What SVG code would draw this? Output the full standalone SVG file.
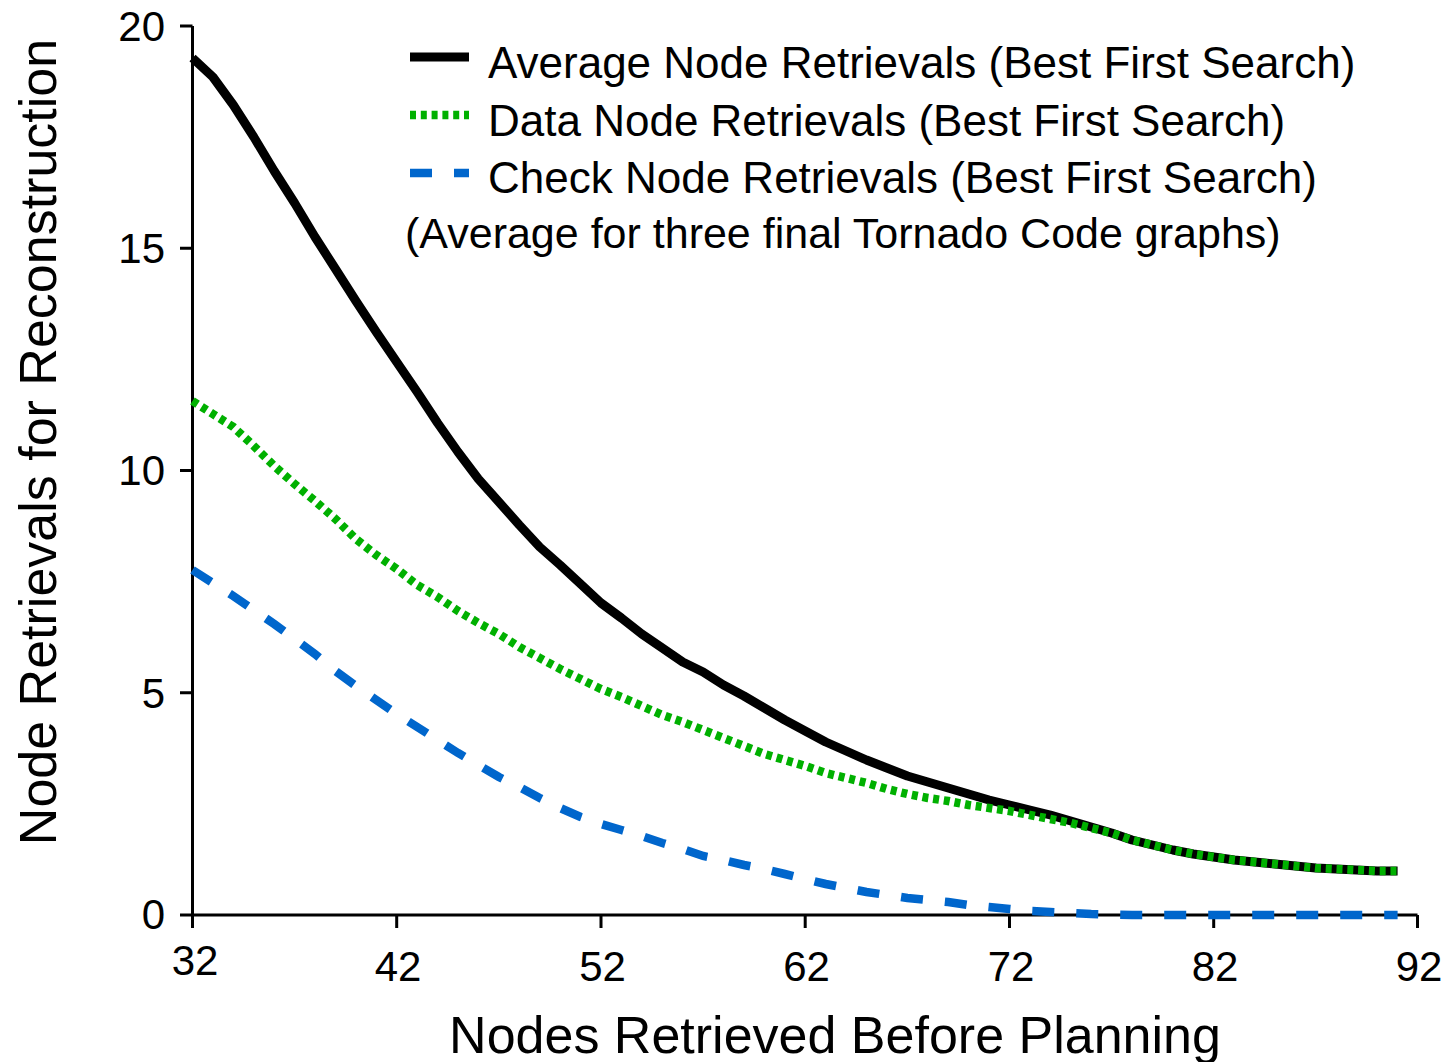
<svg xmlns="http://www.w3.org/2000/svg" width="1450" height="1062" viewBox="0 0 1450 1062">
  <style>
    text { font-family: "Liberation Sans", Arial, sans-serif; fill: #000; }
    .tick { font-size: 42px; }
    .ytick { text-anchor: end; }
    .xtick { text-anchor: middle; }
    .title { font-size: 52px; text-anchor: middle; }
    .legend { font-size: 44px; }
    .note { font-size: 43px; }
    .axis { stroke: #000; stroke-width: 3; fill: none; }
    .s-avg { stroke: #000; stroke-width: 9; fill: none; stroke-linejoin: round; }
    .s-data { stroke: #00b000; stroke-width: 8.5; fill: none; stroke-dasharray: 6 4.8; }
    .s-check { stroke: #0066cc; stroke-width: 8.5; fill: none; stroke-dasharray: 22 22; }
  </style>
  <rect width="1450" height="1062" fill="#fff"/>

  <!-- axes and tick marks -->
  <g id="axes">
    <path class="axis" d="M192.5,26 V915 H1417.5"/>
    <path class="axis" d="M180,26 H192.5 M180,248.2 H192.5 M180,470.5 H192.5 M180,692.7 H192.5 M180,915 H192.5"/>
    <path class="axis" d="M192.5,915 V928 M396.7,915 V928 M601,915 V928 M805.2,915 V928 M1009.5,915 V928 M1213.7,915 V928 M1417.5,915 V928"/>
  </g>

  <g id="y-ticks" class="tick ytick">
    <text x="165" y="41">20</text>
    <text x="165" y="263">15</text>
    <text x="165" y="485">10</text>
    <text x="165" y="708">5</text>
    <text x="165" y="929">0</text>
  </g>

  <g id="x-ticks" class="tick xtick">
    <text x="195" y="975">32</text>
    <text x="398" y="981">42</text>
    <text x="602.5" y="981">52</text>
    <text x="806.5" y="981">62</text>
    <text x="1011" y="981">72</text>
    <text x="1215" y="981">82</text>
    <text x="1419" y="981">92</text>
  </g>

  <g id="axis-titles">
    <text class="title" x="835" y="1053">Nodes Retrieved Before Planning</text>
    <text class="title" transform="translate(56,442) rotate(-90)">Node Retrievals for Reconstruction</text>
  </g>

  <!-- data series -->
  <g id="series">
    <polyline id="avg" class="s-avg" points="192.5,58 212.9,77 233.3,105 253.8,137 274.2,171 294.6,203 315,237 335.5,269 355.9,301 376.3,332 396.7,362 417.2,392 437.6,423 458,452 478.4,479 498.9,502 519.3,525 539.7,547 560.1,565 580.6,584 601,603 621.4,618 641.8,634 662.3,648 682.7,662 703.1,672 723.5,685 744,696 764.4,708 784.8,720 805.2,731 825.7,742 846.1,751 866.5,760 886.9,768 907.4,776 927.8,782 948.2,788 968.6,794 989.1,800 1009.5,805 1029.9,810 1050.3,815 1070.8,821 1091.2,827 1111.6,833 1132,840 1152.5,845 1172.9,850 1193.3,854 1213.7,857 1234.2,860 1254.6,862 1275,864 1295.4,866 1315.9,868 1336.3,869 1356.7,870 1377.1,871 1397.6,871"/>
    <polyline id="data" class="s-data" points="192.5,401 212.9,414 233.3,427 253.8,446 274.2,466 294.6,484 315,501 335.5,519 355.9,539 376.3,555 396.7,569 417.2,585 437.6,597 458,611 478.4,623 498.9,634 519.3,647 539.7,658 560.1,669 580.6,679 601,689 621.4,697 641.8,706 662.3,715 682.7,722 703.1,730 723.5,738 744,746 764.4,754 784.8,760 805.2,766 825.7,773 846.1,778 866.5,783 886.9,789 907.4,794 927.8,798 948.2,801 968.6,805 989.1,808 1009.5,811 1029.9,815 1050.3,819 1070.8,823 1091.2,828 1111.6,833 1132,840 1152.5,845 1172.9,850 1193.3,854 1213.7,857 1234.2,860 1254.6,862 1275,864 1295.4,866 1315.9,868 1336.3,869 1356.7,870 1377.1,871 1397.6,871"/>
    <polyline id="check" class="s-check" points="192.5,570 212.9,583 233.3,596 253.8,610 274.2,624 294.6,639 315,654 335.5,671 355.9,686 376.3,700 396.7,714 417.2,727 437.6,740 458,753 478.4,765 498.9,777 519.3,787 539.7,798 560.1,808 580.6,817 601,824 621.4,830 641.8,836 662.3,843 682.7,849 703.1,856 723.5,860 744,865 764.4,869 784.8,874 805.2,879 825.7,884 846.1,888 866.5,892 886.9,895 907.4,898 927.8,900 948.2,902 968.6,905 989.1,907 1009.5,909 1029.9,911 1050.3,912 1070.8,913 1091.2,914 1111.6,914.5 1132,915 1397.6,915"/>
  </g>

  <!-- legend -->
  <g id="legend" class="legend">
    <line class="s-avg" x1="410" y1="57" x2="469" y2="57" style="stroke-linejoin:miter"/>
    <line class="s-data" x1="410" y1="115" x2="469" y2="115"/>
    <line class="s-check" x1="410" y1="173" x2="469" y2="173"/>
    <text x="488" y="78">Average Node Retrievals (Best First Search)</text>
    <text x="488" y="136">Data Node Retrievals (Best First Search)</text>
    <text x="488" y="193">Check Node Retrievals (Best First Search)</text>
    <text class="note" x="405" y="248">(Average for three final Tornado Code graphs)</text>
  </g>
</svg>
